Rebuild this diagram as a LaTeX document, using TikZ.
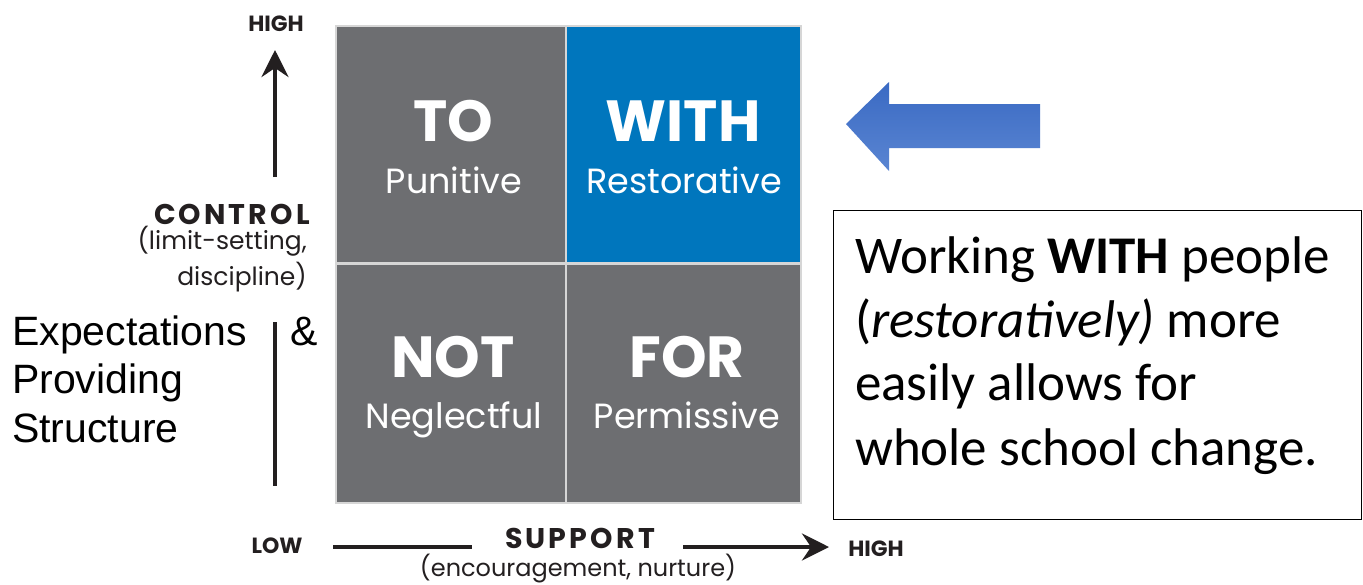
\documentclass[tikz,border=0pt]{standalone}
\usepackage{fontspec}
\setmainfont{Liberation Sans}
\newfontfamily\avfont{Poppins}
\newfontfamily\carlitofont{Carlito}
\usetikzlibrary{arrows.meta}
\definecolor{cellgrey}{HTML}{6D6E71}
\definecolor{cellblue}{HTML}{0076BD}
\definecolor{gapgrey}{HTML}{D6D6D6}
\definecolor{arrowtop}{HTML}{3A6AC3}
\definecolor{arrowbot}{HTML}{5A85D2}
\definecolor{ink}{HTML}{231F20}
\begin{document}
\begin{tikzpicture}[x=1pt,y=-1pt,
  cell/.style={draw=none,inner sep=0,anchor=north west,minimum height=235pt},
  big/.style={font=\avfont\bfseries\fontsize{58}{60}\selectfont,text=white,anchor=base,inner sep=0},
  sub/.style={font=\avfont\fontsize{35}{38}\selectfont,text=white,anchor=base,inner sep=0},
  axisline/.style={line width=4pt,draw=ink},
  axistip/.style={-{Stealth[length=27pt,width=27pt,inset=9pt]}},
  axislab/.style={font=\avfont\bfseries\fontsize{22}{24}\selectfont,text=ink,inner sep=0,anchor=base},
  axisname/.style={font=\avfont\bfseries\fontsize{28.5}{30}\selectfont\addfontfeature{LetterSpace=11},text=ink,inner sep=0,anchor=base},
  axisnote/.style={font=\avfont\fontsize{25}{28}\selectfont,text=ink,inner sep=0,anchor=base},
  leftlab/.style={font=\fontsize{41}{44}\selectfont,inner sep=0,anchor=base west},
  boxline/.style={font=\carlitofont\fontsize{53}{60}\selectfont,inner sep=0,anchor=base west}]
\useasboundingbox (0,0) rectangle (1363,584);
\fill[white] (0,0) rectangle (1363,584);

% grid
\fill[gapgrey] (335,25) rectangle (802,504);
\node[cell,fill=cellgrey,minimum width=228pt] (to) at (337,27) {};
\node[cell,fill=cellblue,minimum width=233pt] (with) at (567,27) {};
\node[cell,fill=cellgrey,minimum width=228pt,minimum height=237pt] (not) at (337,265) {};
\node[cell,fill=cellgrey,minimum width=233pt,minimum height=237pt] (for) at (567,265) {};

\node[big] (toT) at (453,141) {TO};
\node[sub] (toS) at (454,193) {Punitive};
\node[big] (withT) at (683,141) {WITH};
\node[sub] (withS) at (684,193) {Restorative};
\node[big] (notT) at (453,377) {NOT};
\node[sub] (notS) at (454,428) {Neglectful};
\node[big] (forT) at (687,377) {FOR};
\node[sub] (forS) at (687,428) {Permissive};

% vertical axis
\node[axislab] (vhigh) at (276,31) {HIGH};
\node[axisname,anchor=base east] (control) at (310,224) {CONTROL};
\node[axisnote,anchor=base east] (ctl1) at (307,249) {(limit-setting,};
\node[axisnote,anchor=base east] (ctl2) at (307,285) {discipline)};
\coordinate (vup0) at (275,177);
\coordinate (vup1) at (275,50);
\draw[axisline,axistip] (vup0) -- (vup1);
\coordinate (vlo0) at (275,322);
\coordinate (vlo1) at (275,486);
\draw[axisline] (vlo0) -- (vlo1);

% horizontal axis
\node[axislab] (low) at (277,553) {LOW};
\node[axisname] (support) at (580,548) {SUPPORT};
\node[axisnote,font=\avfont\fontsize{24}{26}\selectfont] (sup2) at (578,576) {(encouragement, nurture)};
\node[axislab] (hhigh) at (876,556) {HIGH};
\coordinate (h0) at (333,547);
\coordinate (h1) at (472,547);
\coordinate (h2) at (683,547);
\coordinate (h3) at (829,547);
\draw[axisline] (h0) -- (h1);
\draw[axisline,axistip] (h2) -- (h3);

% left labels
\node[leftlab] (exp) at (12,345) {Expectations};
\node[leftlab] (amp) at (290,345) {\&};
\node[leftlab] (prov) at (12,393) {Providing};
\node[leftlab] (struct) at (12,442) {Structure};

% blue block arrow
\shade[top color=arrowtop,bottom color=arrowbot]
  (846,124) -- (889,82) -- (889,104) -- (1040,104) -- (1040,148) -- (889,148) -- (889,171) -- cycle;

% text box
\node[draw=black,line width=1.2pt,inner sep=0,anchor=north west,minimum width=528pt,minimum height=309pt] (box) at (833,210) {};
\node[boxline] (l1) at (855,273) {Working \textbf{WITH} people};
\node[boxline] (l2) at (855,337) {(\textit{restoratively)} more};
\node[boxline] (l3) at (855,400) {easily allows for};
\node[boxline] (l4) at (855,465) {whole school change.};
\end{tikzpicture}
\end{document}
